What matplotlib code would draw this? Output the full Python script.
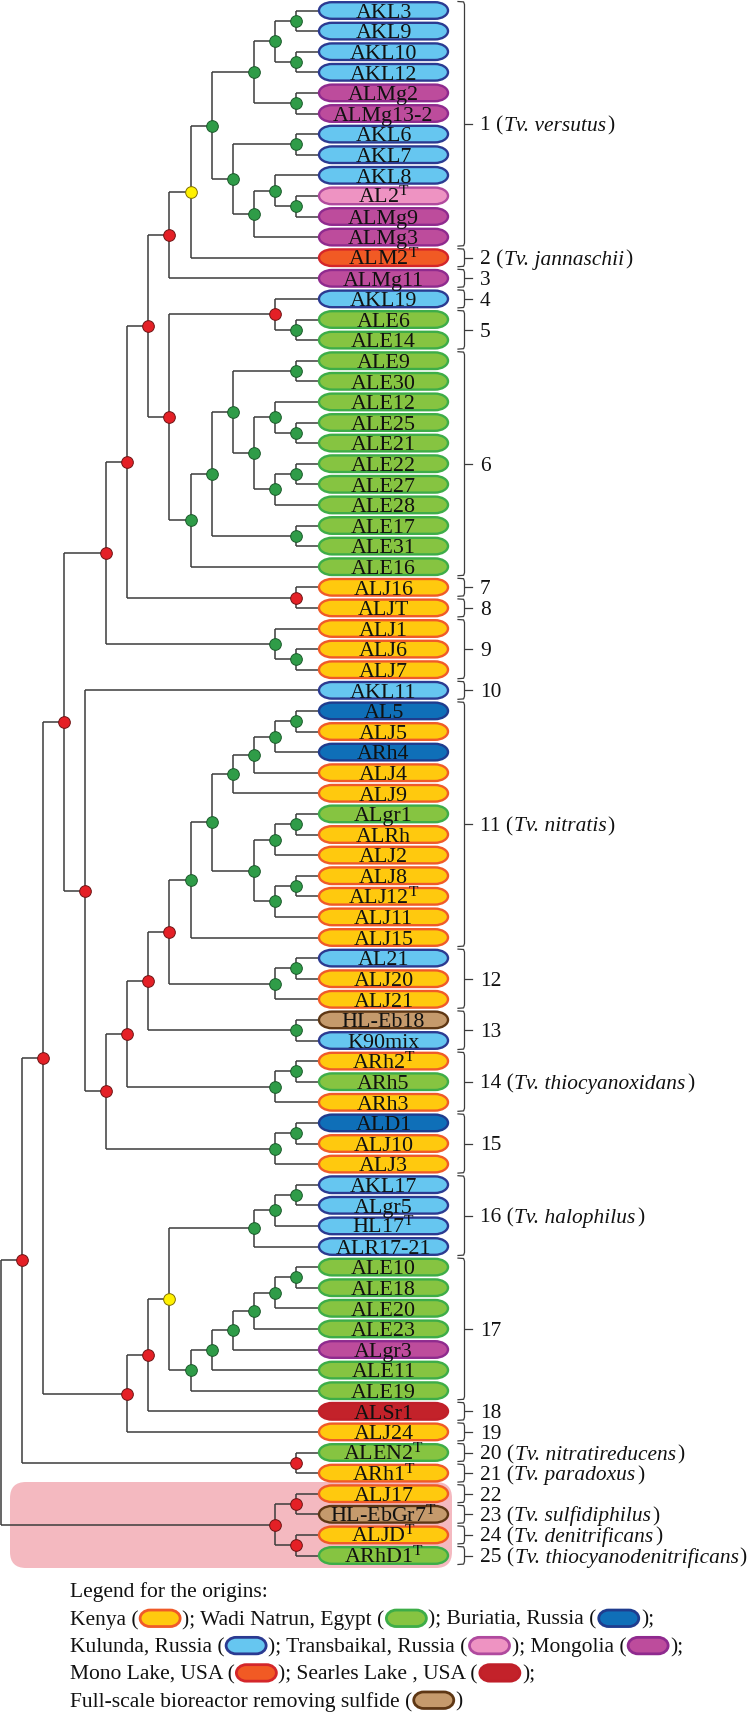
import matplotlib
matplotlib.use('Agg')
import matplotlib.pyplot as plt
from matplotlib.patches import FancyBboxPatch, PathPatch
from matplotlib.path import Path

plt.rcParams['font.family'] = ['Liberation Serif', 'DejaVu Serif']
plt.rcParams['mathtext.fontset'] = 'custom'
plt.rcParams['mathtext.rm'] = 'Liberation Serif'
plt.rcParams['mathtext.it'] = 'Liberation Serif:italic'

# ---------------- data ----------------
# tree topology (Newick-like); internal-node labels give the support-dot colour
PINK_CLADE = "((ALJ17,HL-EbGr7)r,(ALJD,ARhD1)r)r"
CLADE_K3A = "(((AKL3,AKL9)g,(AKL10,AKL12)g)g,(ALMg2,ALMg13-2)g)g"
CLADE_K4A = "((AKL6,AKL7)g,((AKL8,(AL2,ALMg9)g)g,ALMg3)g)g"
CLADE_K4B = "((ALE9,ALE30)g,((ALE12,(ALE25,ALE21)g)g,((ALE22,ALE27)g,ALE28)g)g)g"
CLADE_K4C = "((((AL5,ALJ5)g,ARh4)g,ALJ4)g,ALJ9)g"
CLADE_K3C = "(((ALgr1,ALRh)g,ALJ2)g,((ALJ8,ALJ12)g,ALJ11)g)g"
CLADE_G16 = "(((AKL17,ALgr5)g,HL17)g,ALR17-21)g"
CLADE_G17 = "((((((ALE10,ALE18)g,ALE20)g,ALE23)g,ALgr3)g,ALE11)g,ALE19)g"

K7A = f"((({CLADE_K3A},{CLADE_K4A})g,ALM2)y,ALMg11)r"
K7B = f"((AKL19,(ALE6,ALE14)g)r,(({CLADE_K4B},(ALE17,ALE31)g)g,ALE16)g)r"
K10A = f"((({K7A},{K7B})r,(ALJ16,ALJT)r)r,(ALJ1,(ALJ6,ALJ7)g)g)r"
K7C = f"((({CLADE_K4C},{CLADE_K3C})g,ALJ15)g,((AL21,ALJ20)g,ALJ21)g)r"
K11 = f"(AKL11,((({K7C},(HL-Eb18,K90mix)g)r,((ARh2,ARh5)g,ARh3)g)r,((ALD1,ALJ10)g,ALJ3)g)r)r"
K9B = f"((({CLADE_G16},{CLADE_G17})y,ALSr1)r,ALJ24)r"
TREE = f"(((({K10A},{K11})r,{K9B})r,(ALEN2,ARh1)r)r,{PINK_CLADE})"

LEAVES = ["AKL3", "AKL9", "AKL10", "AKL12", "ALMg2", "ALMg13-2", "AKL6", "AKL7", "AKL8",
          "AL2", "ALMg9", "ALMg3", "ALM2", "ALMg11", "AKL19", "ALE6", "ALE14", "ALE9",
          "ALE30", "ALE12", "ALE25", "ALE21", "ALE22", "ALE27", "ALE28", "ALE17", "ALE31",
          "ALE16", "ALJ16", "ALJT", "ALJ1", "ALJ6", "ALJ7", "AKL11", "AL5", "ALJ5", "ARh4",
          "ALJ4", "ALJ9", "ALgr1", "ALRh", "ALJ2", "ALJ8", "ALJ12", "ALJ11", "ALJ15", "AL21",
          "ALJ20", "ALJ21", "HL-Eb18", "K90mix", "ARh2", "ARh5", "ARh3", "ALD1", "ALJ10",
          "ALJ3", "AKL17", "ALgr5", "HL17", "ALR17-21", "ALE10", "ALE18", "ALE20", "ALE23",
          "ALgr3", "ALE11", "ALE19", "ALSr1", "ALJ24", "ALEN2", "ARh1", "ALJ17", "HL-EbGr7",
          "ALJD", "ARhD1"]
ORIGINS = ["KU", "KU", "KU", "KU", "MG", "MG", "KU", "KU", "KU",
           "TB", "MG", "MG", "ML", "MG", "KU", "EG", "EG", "EG",
           "EG", "EG", "EG", "EG", "EG", "EG", "EG", "EG", "EG",
           "EG", "KE", "KE", "KE", "KE", "KE", "KU", "BU", "KE", "BU",
           "KE", "KE", "EG", "KE", "KE", "KE", "KE", "KE", "KE", "KU",
           "KE", "KE", "BR", "KU", "KE", "EG", "KE", "BU", "KE",
           "KE", "KU", "KU", "KU", "KU", "EG", "EG", "EG", "EG",
           "MG", "EG", "EG", "SL", "KE", "EG", "KE", "KE", "BR",
           "KE", "EG"]
TYPE_STRAINS = ["AL2", "ALM2", "ALJ12", "ARh2", "HL17", "ALEN2", "ARh1", "HL-EbGr7", "ALJD", "ARhD1"]

ORIGIN_CODES = ["KE", "EG", "BU", "KU", "TB", "MG", "ML", "SL", "BR"]
ORIGIN_FILL = ["#FFC90E", "#86C441", "#0F6FB8", "#66C6F0", "#EE93C2", "#BD4C9C", "#F15A24", "#C3222A", "#C59A6C"]
ORIGIN_EDGE = ["#F05A28", "#3DAD48", "#1F3C8E", "#2B3A91", "#B04A9E", "#8F2A8E", "#D4262A", "#C01F29", "#5E3714"]

# groups: first leaf, last leaf, species name
GROUP_FIRST = [0, 12, 13, 14, 15, 17, 28, 29, 30, 33, 34, 46, 49, 51, 54, 57, 61, 68, 69, 70, 71, 72, 73, 74, 75]
GROUP_LAST = [11, 12, 13, 14, 16, 27, 28, 29, 32, 33, 45, 48, 50, 53, 56, 60, 67, 68, 69, 70, 71, 72, 73, 74, 75]
GROUP_SPECIES = ["Tv. versutus", "Tv. jannaschii", "", "", "", "", "", "", "", "", "Tv. nitratis", "", "",
                 "Tv. thiocyanoxidans", "", "Tv. halophilus", "", "", "", "Tv. nitratireducens",
                 "Tv. paradoxus", "", "Tv. sulfidiphilus", "Tv. denitrificans", "Tv. thiocyanodenitrificans"]

LEGEND_TITLE = "Legend for the origins:"
LEGEND_LINES = [["Kenya (", "@KE", "); Wadi Natrun, Egypt (", "@EG", "); Buriatia, Russia (", "@BU", ");"],
                ["Kulunda, Russia (", "@KU", "); Transbaikal, Russia (", "@TB", "); Mongolia (", "@MG", ");"],
                ["Mono Lake, USA (", "@ML", "); Searles Lake , USA (", "@SL", ");"],
                ["Full-scale bioreactor removing sulfide (", "@BR", ")"]]

DOT_COLORS = {"r": ("#E42026", "#6E1414"), "g": ("#2F9C48", "#1A5A2A"), "y": ("#FFF100", "#807000")}

# ---------------- parse tree ----------------
def parse(s, i=0):
    if s[i] == '(':
        i += 1
        children = []
        while True:
            c, i = parse(s, i)
            children.append(c)
            if s[i] == ',':
                i += 1
                continue
            if s[i] == ')':
                i += 1
                break
        j = i
        while j < len(s) and s[j] not in ',();':
            j += 1
        return {"children": children, "label": s[i:j]}, j
    j = i
    while j < len(s) and s[j] not in ',();':
        j += 1
    return {"children": [], "name": s[i:j]}, j

root, _ = parse(TREE)

# ---------------- figure ----------------
W, H = 752, 1712
fig = plt.figure(figsize=(W / 100, H / 100), dpi=100)
ax = fig.add_axes([0, 0, 1, 1])
ax.set_xlim(0, W)
ax.set_ylim(H, 0)
ax.axis('off')
renderer = fig.canvas.get_renderer()

Y0, DY = 10.5, 20.6
X_TIP, X1, STEP = 318.0, 296.0, 21.1
PILL_L, PILL_R = 319.0, 448.0
LINE_C = "#3C3C3C"

leaf_y = {name: Y0 + i * DY for i, name in enumerate(LEAVES)}

def layout(node):
    if not node["children"]:
        node["x"] = X_TIP
        node["y"] = leaf_y[node["name"]]
        node["h"] = 0
        return
    for c in node["children"]:
        layout(c)
    node["h"] = max(c["h"] for c in node["children"]) + 1
    node["x"] = X1 - (node["h"] - 1) * STEP
    node["y"] = (node["children"][0]["y"] + node["children"][-1]["y"]) / 2

layout(root)

def stadium(x0, y0, w, h, rx, **kw):
    """rounded box with elliptical ends"""
    k = 0.5523
    x1, y1 = x0 + w, y0 + h
    ry = h / 2
    yc = y0 + ry
    verts = [(x0 + rx, y0), (x1 - rx, y0),
             (x1 - rx + k * rx, y0), (x1, yc - k * ry), (x1, yc),
             (x1, yc + k * ry), (x1 - rx + k * rx, y1), (x1 - rx, y1),
             (x0 + rx, y1),
             (x0 + rx - k * rx, y1), (x0, yc + k * ry), (x0, yc),
             (x0, yc - k * ry), (x0 + rx - k * rx, y0), (x0 + rx, y0),
             (x0 + rx, y0)]
    codes = [Path.MOVETO, Path.LINETO,
             Path.CURVE4, Path.CURVE4, Path.CURVE4,
             Path.CURVE4, Path.CURVE4, Path.CURVE4,
             Path.LINETO,
             Path.CURVE4, Path.CURVE4, Path.CURVE4,
             Path.CURVE4, Path.CURVE4, Path.CURVE4,
             Path.CLOSEPOLY]
    ax.add_patch(PathPatch(Path(verts, codes), **kw))

# pink highlight
ax.add_patch(FancyBboxPatch((10, 1482), 442, 86, boxstyle="round,pad=0,rounding_size=16",
                            facecolor="#F4B9C0", edgecolor="none", zorder=0))

dots = []
def draw(node):
    if not node["children"]:
        return
    ys = [c["y"] for c in node["children"]]
    ax.plot([node["x"], node["x"]], [min(ys), max(ys)], color=LINE_C, lw=1.1, zorder=1,
            solid_capstyle='butt')
    for c in node["children"]:
        ax.plot([node["x"], c["x"]], [c["y"], c["y"]], color=LINE_C, lw=1.1, zorder=1,
                solid_capstyle='butt')
        draw(c)
    lab = node.get("label", "")
    if lab in DOT_COLORS:
        dots.append((node["x"], node["y"], lab))

draw(root)
for x, y, lab in dots:
    fc, ec = DOT_COLORS[lab]
    ax.plot(x, y, 'o', ms=8.4, mfc=fc, mec=ec, mew=0.7, zorder=4)

# pills
for name, org in zip(LEAVES, ORIGINS):
    k = ORIGIN_CODES.index(org)
    y = leaf_y[name]
    stadium(PILL_L, y - 8.3, PILL_R - PILL_L, 16.6, 13.0,
            facecolor=ORIGIN_FILL[k], edgecolor=ORIGIN_EDGE[k], lw=1.7, zorder=2)
    label = name + (r"$^{\mathrm{T}}$" if name in TYPE_STRAINS else "")
    ax.text((PILL_L + PILL_R) / 2, y + 7.3, label, fontsize=15.8, ha='center', va='baseline',
            color='#111111', zorder=3)

# brackets and group labels
def put(x, y, s, size, style='normal'):
    t = ax.text(x, y, s, fontsize=size, style=style, ha='left', va='baseline', color='#111111')
    return x + t.get_window_extent(renderer=renderer).width

BX0, BX1, BXT = 458.0, 464.5, 472.0
GFS = 15.4
for gi, (a, b) in enumerate(zip(GROUP_FIRST, GROUP_LAST)):
    top = Y0 + a * DY - 9.0
    bot = Y0 + b * DY + 9.0
    mid = (top + bot) / 2
    r = 3.0
    ax.plot([BX0, BX1 - r * 0.3, BX1, BX1, BX1 - r * 0.3, BX0],
            [top, top + 0.4, top + r, bot - r, bot - 0.4, bot], color=LINE_C, lw=0.9,
            solid_joinstyle='round')
    ax.plot([BX1, BXT], [mid, mid], color=LINE_C, lw=0.9)
    base = mid + 7.0
    x = put(480, base, f"{gi + 1}" + (" (" if GROUP_SPECIES[gi] else ""), GFS)
    if GROUP_SPECIES[gi]:
        x = put(x + 0.5, base, GROUP_SPECIES[gi], GFS, 'italic')
        put(x + 1.0, base, ")", GFS)

# legend
LX, LB0, LDY = 69.5, 1597.5, 27.3
LFS = 15.5
put(LX, LB0, LEGEND_TITLE, LFS)
for li, segs in enumerate(LEGEND_LINES):
    base = LB0 + (li + 1) * LDY
    x = LX
    for s in segs:
        if s.startswith("@"):
            k = ORIGIN_CODES.index(s[1:])
            sw, sh = 40.0, 16.5
            stadium(x + 2.0, base - 6.5 - sh / 2, sw, sh, 10.0,
                    facecolor=ORIGIN_FILL[k], edgecolor=ORIGIN_EDGE[k], lw=2.0, zorder=2)
            x += sw + 4.0
        else:
            x = put(x, base, s, LFS)

fig.savefig("out.png", dpi=100)
